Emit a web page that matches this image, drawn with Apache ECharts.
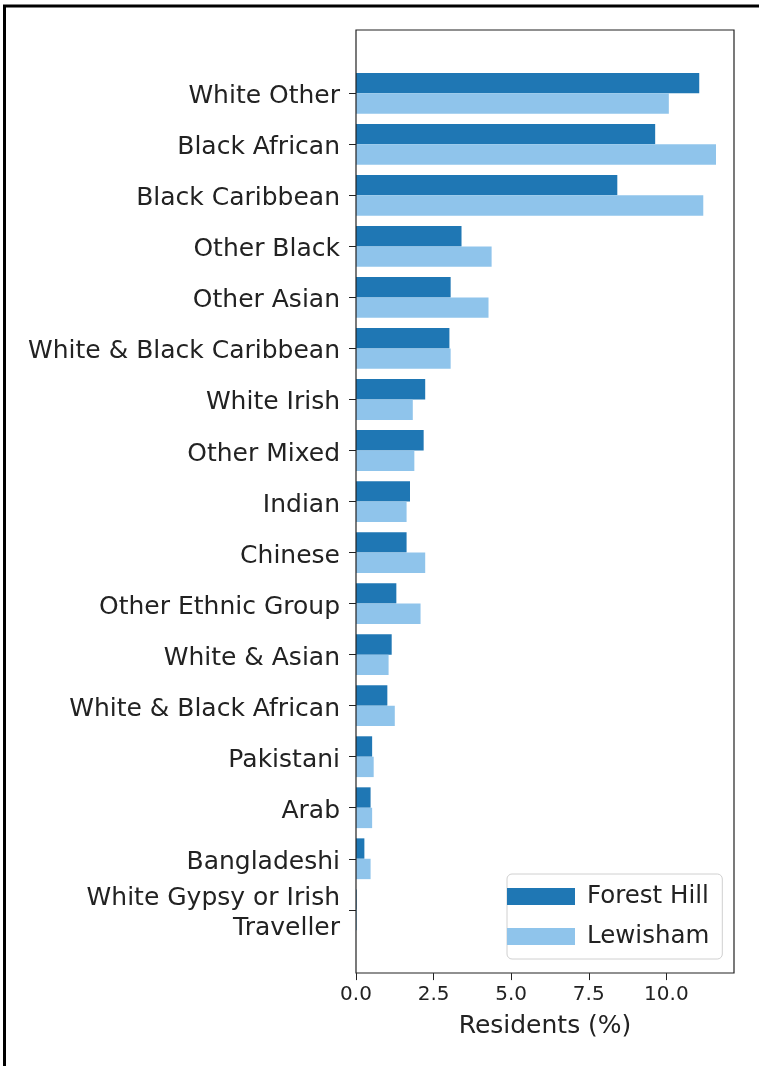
<!DOCTYPE html>
<html>
<head>
<meta charset="utf-8">
<script src="https://cdn.jsdelivr.net/npm/echarts@6/dist/echarts.min.js"></script>
<style>
html,body{margin:0;padding:0;background:#fff;}
#chart{width:759px;height:1066px;}
</style>
</head>
<body>
<div id="chart"></div>
<script>
const categories = [
  'White Other', 'Black African', 'Black Caribbean', 'Other Black', 'Other Asian',
  'White & Black Caribbean', 'White Irish', 'Other Mixed', 'Indian', 'Chinese',
  'Other Ethnic Group', 'White & Asian', 'White & Black African', 'Pakistani',
  'Arab', 'Bangladeshi', 'White Gypsy or Irish\nTraveller'
];
const forestHill = [11.06, 9.64, 8.42, 3.40, 3.05, 3.01, 2.23, 2.18, 1.74, 1.63, 1.30, 1.15, 1.01, 0.52, 0.47, 0.27, 0.02];
const lewisham   = [10.08, 11.60, 11.19, 4.37, 4.27, 3.05, 1.83, 1.88, 1.63, 2.23, 2.08, 1.05, 1.25, 0.57, 0.52, 0.47, 0.03];
const xTicks = [0, 2.5, 5, 7.5, 10];
const seriesNames = ['Forest Hill', 'Lewisham'];
const xTitle = 'Residents (%)';

const FONT = 'DejaVu Sans';
const chart = echarts.init(document.getElementById('chart'), null, {renderer: 'canvas'});
chart.setOption({
  animation: false,
  backgroundColor: '#fff',
  grid: {left: 356, width: 378, top: 67.8, height: 867.5, containLabel: false},
  xAxis: {
    type: 'value', min: 0, max: 12.18, interval: 2.5,
    offset: 37.8,
    axisLine: {show: false},
    splitLine: {show: false},
    axisTick: {show: true, length: 7, lineStyle: {color: '#222', width: 1}, customValues: xTicks},
    axisLabel: {customValues: xTicks, formatter: v => v.toFixed(1), fontFamily: FONT, fontSize: 20, color: '#222', margin: 12},
    name: xTitle, nameLocation: 'middle', nameGap: 41,
    nameTextStyle: {fontFamily: FONT, fontSize: 25, color: '#222'}
  },
  yAxis: {
    type: 'category', data: categories, inverse: true,
    axisLine: {show: false},
    axisTick: {show: true, alignWithLabel: true, interval: 0, length: 7, lineStyle: {color: '#222', width: 1}},
    axisLabel: {
      interval: 0, hideOverlap: false, margin: 16, align: 'right',
      formatter: v => '{s|}\n' + v.split('\n').map(s => '{a|' + s + '}').join('\n'),
      lineHeight: 30,
      rich: {
        s: {height: 7, lineHeight: 7, fontSize: 1},
        a: {fontFamily: FONT, fontSize: 25, color: '#222', lineHeight: 30}
      }
    }
  },
  legend: {
    data: seriesNames, orient: 'vertical', left: 507, top: 874,
    icon: 'rect', itemWidth: 68, itemHeight: 17, itemGap: 15,
    padding: [10, 13, 10, 0],
    backgroundColor: '#fff', borderColor: '#d0d0d0', borderWidth: 1, borderRadius: 5,
    textStyle: {fontFamily: FONT, fontSize: 24.5, color: '#222', lineHeight: 24, padding: [0, 0, 0, 7]}
  },
  graphic: [
    {type: 'rect', shape: {x: 356, y: 30, width: 378, height: 943}, style: {fill: 'none', stroke: '#222', lineWidth: 1.2}, z: 10},
    {type: 'rect', shape: {x: 4.5, y: 6, width: 800, height: 1100}, style: {fill: 'none', stroke: '#000', lineWidth: 3}, z: 10}
  ],
  series: [
    {name: seriesNames[0], type: 'bar', data: forestHill, barWidth: 20.4, barGap: '0%', itemStyle: {color: '#1f77b4'}},
    {name: seriesNames[1], type: 'bar', data: lewisham, barWidth: 20.4, barGap: '0%', itemStyle: {color: '#8fc4eb'}}
  ]
});
</script>
</body>
</html>
